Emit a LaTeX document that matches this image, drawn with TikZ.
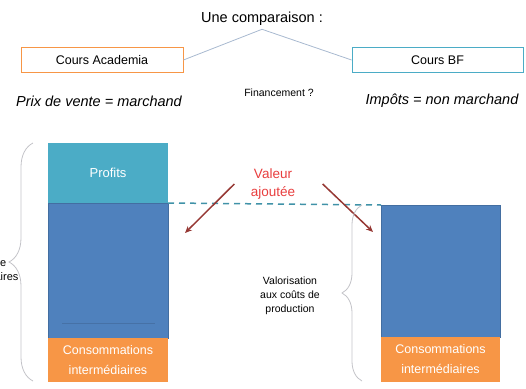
\documentclass[tikz,border=0pt]{standalone}
\usepackage{fontspec}
\setmainfont{Liberation Sans}
\usetikzlibrary{arrows.meta,positioning,decorations.pathreplacing}

\definecolor{orangeci}{RGB}{247,150,70}
\definecolor{bluevp}{RGB}{79,129,189}
\definecolor{tealpr}{RGB}{75,172,198}
\definecolor{redva}{RGB}{232,62,62}
\definecolor{redarrow}{RGB}{150,56,52}
\definecolor{greyline}{RGB}{168,185,208}
\definecolor{greybrace}{RGB}{195,195,200}

\begin{document}
\begin{tikzpicture}[x=1pt,y=-1pt,
		fsize/.style={font=\fontsize{#1}{#1}\selectfont},
		coursbox/.style={draw,line width=0.8pt,minimum height=25pt,fsize=12.5},
		bar/.style={inner sep=0pt,outer sep=0pt,minimum width=120pt,text=white},
		accolade/.style={draw=greybrace,line width=0.8pt,decorate}]

	\useasboundingbox (0,0) rectangle (526,388);

	% comparison
	\node [fsize=14.5] (compar) at (262,19) {Une comparaison :};
	\node [coursbox,draw=orangeci,minimum width=162pt] (academia) at (102,60) {Cours Academia};
	\node [coursbox,draw=tealpr,minimum width=171pt] (bf) at (437.5,60) {Cours BF};
	\draw [greyline,line width=0.8pt] (compar.south) -- (academia.east);
	\draw [greyline,line width=0.8pt] (compar.south) -- (bf.west);

	% financing
	\node [fsize=14.5] (marchand) at (99,101) {\itshape Prix de vente = marchand};
	\node [fsize=10.5] (financ) at (279,93) {Financement ?};
	\node [fsize=14.5] (nonmarchand) at (442,101) {\itshape Impôts = non marchand};

	% bars
	\node [bar,fill=tealpr,minimum height=60pt,fsize=13] (profits) at (108,173) {Profits};
	\node [bar,fill=bluevp,draw=bluevp!85!black,minimum height=135pt,below=0pt of profits] (vaprive) {};
	\node [bar,fill=orangeci,minimum height=44pt,below=0pt of vaprive,align=center,font=\fontsize{12.5}{20}\selectfont] (ciprive) {Consommations\\intermédiaires};
	\draw [bluevp!88!black,line width=0.6pt] ([shift={(14,-15)}]vaprive.south west) -- ([shift={(-13,-15)}]vaprive.south east);

	\node [bar,fill=bluevp,draw=bluevp!85!black,minimum width=119pt,minimum height=132pt] (vapublic) at (440.5,271) {};
	\node [bar,fill=orangeci,minimum width=119pt,minimum height=45pt,below=0pt of vapublic,align=center,font=\fontsize{12.5}{20}\selectfont] (cipublic) {Consommations\\intermédiaires};

	% value added
	\draw [tealpr!85!black,line width=1.5pt,dash pattern=on 6pt off 5pt] (profits.south east) -- (vapublic.north west);
	\node [text=redva,align=center,font=\fontsize{13.5}{18}\selectfont] (valabel) at (273,184) {Valeur\\ajoutée};
	\coordinate (tipl) at (185,233);
	\coordinate (tipr) at (373,232);
	\draw [redarrow,line width=1.5pt,-{Stealth[length=7pt,width=6pt]}] ([xshift=-13pt]valabel.west) -- (tipl);
	\draw [redarrow,line width=1.5pt,-{Stealth[length=7pt,width=6pt]}] ([xshift=24pt]valabel.east) -- (tipr);

	% braces
	\draw [accolade,decoration={brace,amplitude=24pt}] (33,381) -- (33,143);
	\node [anchor=east,align=left,font=\fontsize{11}{14}\selectfont] (ca) at (22,270) {Chiffre\\d'affaires};
	\draw [accolade,decoration={brace,amplitude=20pt}] (362,381) -- (362,205);
	\node [align=center,font=\fontsize{10.5}{14}\selectfont] (valo) at (290,296) {Valorisation\\aux coûts de\\production};

\end{tikzpicture}
\end{document}
